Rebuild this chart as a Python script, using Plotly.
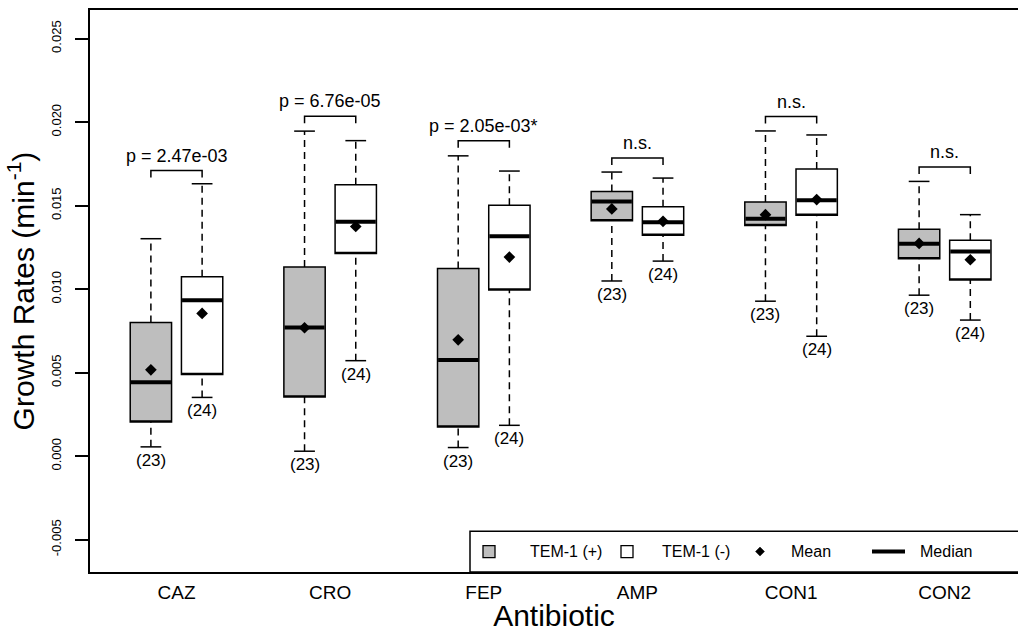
import plotly.graph_objects as go

# ---------------- data ----------------
antibiotics = ["CAZ", "CRO", "FEP", "AMP", "CON1", "CON2"]

# TEM-1 (+)  (grey boxes)
pos_lo   = [0.56e-3, 0.30e-3, 0.52e-3, 10.49e-3, 9.28e-3, 9.64e-3]
pos_q1   = [2.05e-3, 3.54e-3, 1.75e-3, 14.09e-3, 13.81e-3, 11.82e-3]
pos_med  = [4.43e-3, 7.71e-3, 5.76e-3, 15.24e-3, 14.21e-3, 12.72e-3]
pos_q3   = [8.01e-3, 11.32e-3, 11.23e-3, 15.85e-3, 15.22e-3, 13.59e-3]
pos_hi   = [13.02e-3, 19.46e-3, 17.98e-3, 17.01e-3, 19.47e-3, 16.45e-3]
pos_mean = [5.17e-3, 7.69e-3, 6.97e-3, 14.80e-3, 14.46e-3, 12.74e-3]
pos_n    = [23, 23, 23, 23, 23, 23]

# TEM-1 (-)  (white boxes)
neg_lo   = [3.52e-3, 5.72e-3, 1.85e-3, 11.68e-3, 7.18e-3, 8.15e-3]
neg_q1   = [4.89e-3, 12.14e-3, 9.95e-3, 13.23e-3, 14.42e-3, 10.55e-3]
neg_med  = [9.34e-3, 14.03e-3, 13.17e-3, 14.00e-3, 15.32e-3, 12.26e-3]
neg_q3   = [10.75e-3, 16.25e-3, 15.02e-3, 14.94e-3, 17.20e-3, 12.93e-3]
neg_hi   = [16.31e-3, 18.89e-3, 17.07e-3, 16.65e-3, 19.23e-3, 14.46e-3]
neg_mean = [8.55e-3, 13.75e-3, 11.92e-3, 14.06e-3, 15.36e-3, 11.76e-3]
neg_n    = [24, 24, 24, 24, 24, 24]

p_labels  = ["p = 2.47e-03", "p = 6.76e-05", "p = 2.05e-03*", "n.s.", "n.s.", "n.s."]
bracket_y = [17.1e-3, 20.35e-3, 18.88e-3, 17.85e-3, 20.33e-3, 17.31e-3]

y_tickvals = [-0.005, 0.0, 0.005, 0.010, 0.015, 0.020, 0.025]
y_ticktext = ["-0.005", "0.000", "0.005", "0.010", "0.015", "0.020", "0.025"]

# ---------------- styling / layout constants ----------------
FONT = "Liberation Sans, Arial, Helvetica, sans-serif"
GREY = "#bebebe"
OFF = 1 / 6          # offset of each box from the group centre
BW = 0.269           # box width (x units)
CW = 0.135           # whisker cap width
ARM = 0.42e-3        # bracket arm length
LW = 1.5

W, H = 1018, 632
ML, MR, MT, MB = 90, 0, 10, 58
PW, PH = W - ML - MR, H - MT - MB

groups = list(range(1, len(antibiotics) + 1))

fig = go.Figure()


def add_series(xs, lo, q1, med, q3, hi, mean, fill):
    fig.add_trace(go.Box(
        x=xs, q1=q1, median=q1, q3=q3, lowerfence=q1, upperfence=q3,
        width=BW, fillcolor=fill, line=dict(color="black", width=LW),
        whiskerwidth=0, boxpoints=False, showlegend=False, hoverinfo="skip"))
    wx, wy, cx, cy, mx, my = [], [], [], [], [], []
    for x, a, b, m, c, d in zip(xs, lo, q1, med, q3, hi):
        wx += [x, x, None, x, x, None]
        wy += [c, d, None, a, b, None]
        cx += [x - CW / 2, x + CW / 2, None, x - CW / 2, x + CW / 2, None]
        cy += [d, d, None, a, a, None]
        mx += [x - BW / 2 + 0.004, x + BW / 2 - 0.004, None]
        my += [m, m, None]
    fig.add_trace(go.Scatter(x=wx, y=wy, mode="lines", showlegend=False, hoverinfo="skip",
                             line=dict(color="black", width=LW, dash="7px,5px")))
    fig.add_trace(go.Scatter(x=cx, y=cy, mode="lines", showlegend=False, hoverinfo="skip",
                             line=dict(color="black", width=LW)))
    fig.add_trace(go.Scatter(x=mx, y=my, mode="lines", showlegend=False, hoverinfo="skip",
                             line=dict(color="black", width=4)))
    fig.add_trace(go.Scatter(x=xs, y=mean, mode="markers", showlegend=False, hoverinfo="skip",
                             marker=dict(symbol="diamond", size=9, color="black")))


pos_x = [g - OFF for g in groups]
neg_x = [g + OFF for g in groups]
add_series(pos_x, pos_lo, pos_q1, pos_med, pos_q3, pos_hi, pos_mean, GREY)
add_series(neg_x, neg_lo, neg_q1, neg_med, neg_q3, neg_hi, neg_mean, "white")

# sample-size labels
for xs, lo, ns in ((pos_x, pos_lo, pos_n), (neg_x, neg_lo, neg_n)):
    for x, a, n in zip(xs, lo, ns):
        fig.add_annotation(x=x, y=a, text=f"({n})", showarrow=False, yanchor="top",
                           yshift=-2, font=dict(family=FONT, size=17, color="black"))

# significance brackets
bx, by = [], []
for g, b in zip(groups, bracket_y):
    bx += [g - OFF, g - OFF, g + OFF, g + OFF, None]
    by += [b - ARM, b, b, b - ARM, None]
fig.add_trace(go.Scatter(x=bx, y=by, mode="lines", showlegend=False, hoverinfo="skip",
                         line=dict(color="black", width=LW)))
for g, b, t in zip(groups, bracket_y, p_labels):
    fig.add_annotation(x=g, y=b, text=t, showarrow=False, yanchor="bottom", yshift=3,
                       font=dict(family=FONT, size=18, color="black"))


# ---------------- manual legend (paper coordinates) ----------------
def px(xp):
    return (xp - ML) / PW


def py(yp):
    return (H - MB - yp) / PH


leg_y = py(553.5)
fig.add_shape(type="rect", xref="paper", yref="paper", x0=px(470), x1=px(1030),
              y0=0, y1=py(533), line=dict(color="black", width=LW), fillcolor="white")
for cxp, fill in ((489, GREY), (627, "white")):
    fig.add_shape(type="rect", xref="paper", yref="paper",
                  x0=px(cxp - 6), x1=px(cxp + 6), y0=py(553.5 + 6), y1=py(553.5 - 6),
                  line=dict(color="black", width=1.3), fillcolor=fill)
dcx, dcy, dr = 760, 553.5, 4.5
fig.add_shape(type="path", xref="paper", yref="paper",
              path=(f"M {px(dcx - dr)} {py(dcy)} L {px(dcx)} {py(dcy - dr)} "
                    f"L {px(dcx + dr)} {py(dcy)} L {px(dcx)} {py(dcy + dr)} Z"),
              line=dict(color="black", width=0.5), fillcolor="black")
fig.add_shape(type="line", xref="paper", yref="paper", x0=px(872), x1=px(905),
              y0=leg_y, y1=leg_y, line=dict(color="black", width=4))
for xt, t in ((528, "TEM-1 (+)"), (660, "TEM-1 (-)"), (789, "Mean"), (918, "Median")):
    fig.add_annotation(xref="paper", yref="paper", x=px(xt), y=leg_y, text=t,
                       showarrow=False, xanchor="left", yanchor="middle",
                       font=dict(family=FONT, size=16, color="black"))

fig.update_layout(
    width=W, height=H,
    margin=dict(l=ML, r=MR, t=MT, b=MB, pad=0),
    paper_bgcolor="white", plot_bgcolor="white",
    boxmode="overlay",
    showlegend=False,
    font=dict(family=FONT, color="black"),
    xaxis=dict(range=[0.437, 6.477], tickvals=groups, ticktext=antibiotics,
               ticks="", showgrid=False, zeroline=False, showline=True, mirror=True,
               linecolor="black", linewidth=LW, ticklabelstandoff=2,
               tickfont=dict(family=FONT, size=19, color="black"),
               title=dict(text="Antibiotic", standoff=8,
                          font=dict(family=FONT, size=30, color="black"))),
    yaxis=dict(range=[-6.93e-3, 26.71e-3], tickvals=y_tickvals, ticktext=y_ticktext,
               ticks="outside", ticklen=13, tickwidth=LW, tickcolor="black",
               tickangle=-90, showgrid=False, zeroline=False, showline=True, mirror=False,
               linecolor="black", linewidth=LW, ticklabelstandoff=9,
               tickfont=dict(family=FONT, size=13, color="black"),
               title=dict(text="Growth Rates (min<sup>-1</sup>)", standoff=6,
                          font=dict(family=FONT, size=30, color="black"))),
)

fig.write_html("out.html")
